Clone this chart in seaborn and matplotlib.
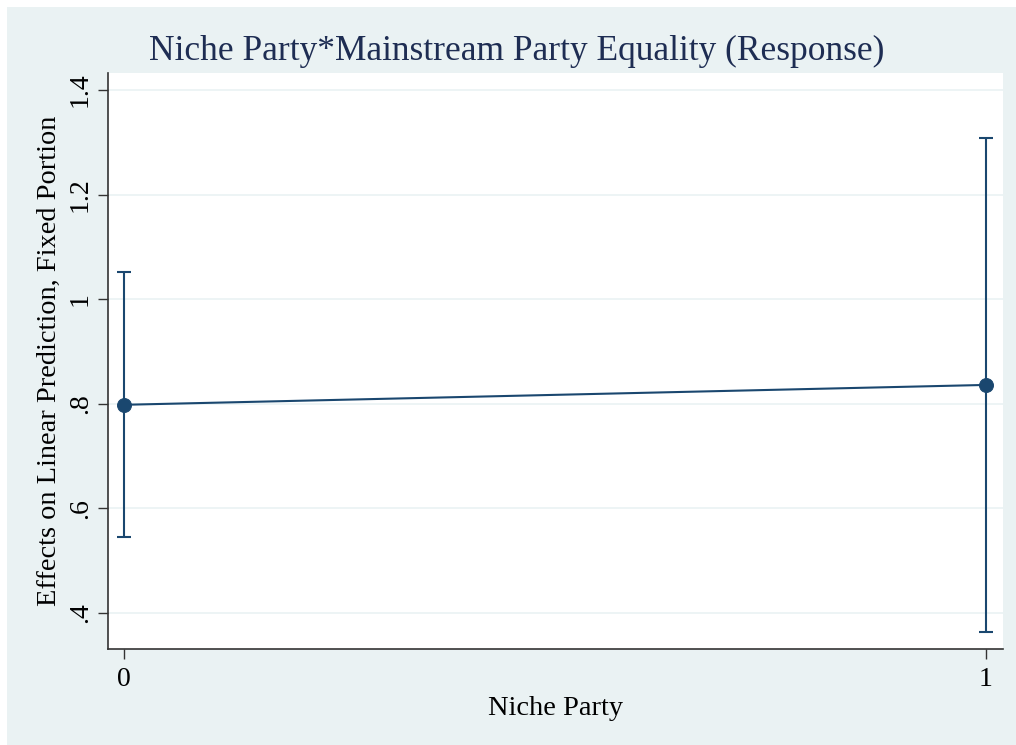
import matplotlib
matplotlib.use("Agg")
import matplotlib.pyplot as plt
import seaborn as sns
import pandas as pd
from matplotlib.patches import Rectangle

# Predictive margins by niche-party status (95% CIs)
niche_party = [0, 1]
margin = [0.798, 0.836]
ci_low = [0.545, 0.364]
ci_high = [1.051, 1.308]

y_ticks = [0.4, 0.6, 0.8, 1.0, 1.2, 1.4]
y_tick_labels = [".4", ".6", ".8", "1", "1.2", "1.4"]
x_ticks = [0, 1]
x_tick_labels = ["0", "1"]

title = "Niche Party*Mainstream Party Equality (Response)"
x_title = "Niche Party"
y_title = "Effects on Linear Prediction, Fixed Portion"

df = pd.DataFrame({"niche": niche_party, "margin": margin,
                   "lo": ci_low, "hi": ci_high})

sns.set_theme(style="white")
plt.rcParams["font.family"] = ["Liberation Serif", "DejaVu Serif"]

W, H = 1016, 745
fig = plt.figure(figsize=(W / 100, H / 100), dpi=100, facecolor="white")
# graph region background
fig.patches.append(Rectangle((7 / W, 0), 1 - 7 / W, 1 - 7 / H,
                             transform=fig.transFigure, facecolor="#eaf2f3",
                             edgecolor="none", zorder=-10))

ax = fig.add_axes([108 / W, 1 - 649 / H, (1003 - 108) / W, (649 - 73) / H])
ax.set_facecolor("white")

navy = "#1a476f"
ax.errorbar(df["niche"], df["margin"],
            yerr=[df["margin"] - df["lo"], df["hi"] - df["margin"]],
            fmt="none", ecolor=navy, elinewidth=1.5, capsize=5, capthick=1.5,
            zorder=2)
sns.lineplot(data=df, x="niche", y="margin", ax=ax, color=navy, linewidth=1.5,
             marker="o", markersize=10, markeredgecolor=navy, zorder=3)

ax.set_xlim(-0.0186, 1.0197)
ax.set_ylim(0.331, 1.4325)
ax.set_yticks(y_ticks)
ax.set_yticklabels(y_tick_labels, rotation=90, va="center")
ax.set_xticks(x_ticks)
ax.set_xticklabels(x_tick_labels)
ax.grid(axis="y", color="#eaf2f3", linewidth=1.2)
ax.grid(axis="x", visible=False)

for side in ["top", "right"]:
    ax.spines[side].set_visible(False)
for side in ["left", "bottom"]:
    ax.spines[side].set_color("#333333")
    ax.spines[side].set_linewidth(1.2)

ax.tick_params(axis="both", direction="out", length=7, width=1, color="#333333",
               labelsize=20, labelcolor="black", left=True, bottom=True)
ax.tick_params(axis="y", pad=4)
ax.tick_params(axis="x", pad=6)

ax.set_xlabel(x_title, fontsize=20.4, color="black", labelpad=3)
ax.set_ylabel(y_title, fontsize=20.4, color="black", labelpad=4)

fig.text(0.509, 1 - 51 / H, title, ha="center", va="center", fontsize=25.5,
         color="#1e2d53")

fig.savefig("out.png", dpi=100, facecolor=fig.get_facecolor())
